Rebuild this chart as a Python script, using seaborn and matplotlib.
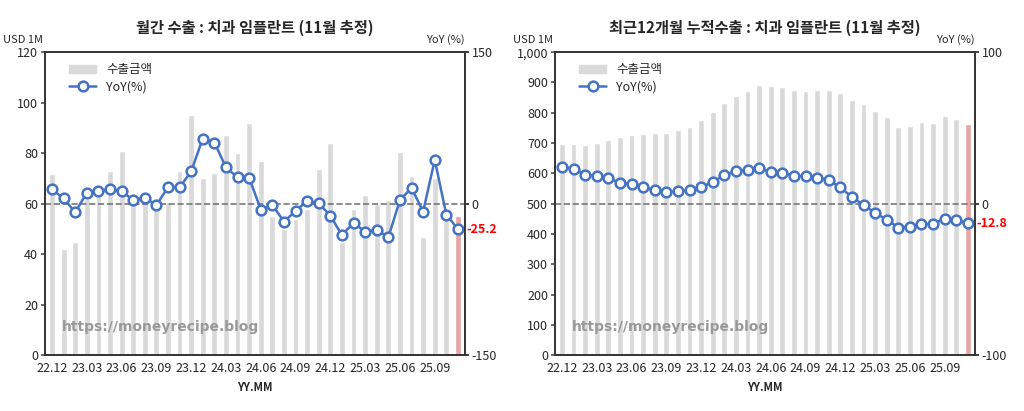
import matplotlib
matplotlib.use("Agg")
import matplotlib.pyplot as plt
import seaborn as sns
import numpy as np
import pandas as pd
from matplotlib.lines import Line2D
from matplotlib.patches import Patch

sns.set_theme(style="white")
plt.rcParams['font.family'] = ['Noto Sans CJK KR', 'DejaVu Sans']

months = ["22.12","23.01","23.02","23.03","23.04","23.05","23.06","23.07","23.08","23.09","23.10","23.11",
          "23.12","24.01","24.02","24.03","24.04","24.05","24.06","24.07","24.08","24.09","24.10","24.11",
          "24.12","25.01","25.02","25.03","25.04","25.05","25.06","25.07","25.08","25.09","25.10","25.11"]
monthly_exp = [71.6,42.2,44.9,62,66,72.8,80.7,63,62,60,60.8,72.8,95,70,72.3,87,80,91.8,76.8,55,50,53.8,58,73.6,
               84,45,58,63.3,60,61.6,80.3,71,46.6,70,55,55]
monthly_yoy = [14.1,5.3,-8.6,10.9,12.5,14.1,12.5,3.3,5.9,-1.6,16.4,16.1,31.9,64.5,60.5,35.9,26,25.7,-5.9,-1.3,
               -17.8,-7.2,2.6,0.3,-11.8,-31.3,-18.8,-28,-26,-33.2,3.6,15.5,-7.9,43.4,-10.9,-25.2]
ttm_exp = [696,698,693,701,709,719,726,731,734,734,743,753,777,804,832,855,871,891,887,886,876,873,874,875,
           864,843,830,805,785,754,757,768,765,788,781,764]
ttm_yoy = [24.3,23,19.1,18.4,16.7,13.8,12.7,11,8.8,7.9,8.1,9,10.7,14.3,18.9,21.3,22.4,23.5,20.8,20.4,18.4,18.2,
           17.1,15.6,10.7,4.4,-0.9,-6.1,-10.5,-15.8,-15.1,-13.6,-13.2,-10.1,-11,-12.8]

fig = plt.figure(figsize=(10.24, 4.11), dpi=100)
axL = fig.add_axes([0.044, 0.136, 0.41, 0.737])
axR = fig.add_axes([0.542, 0.136, 0.41, 0.737])

def panel(ax, bars, yoy, title, ymax, ystep, yfmt, ylim2):
    n = len(months)
    df = pd.DataFrame({"m": months, "v": bars})
    cols = ["#d9d9d9"] * (n - 1) + ["#e8a5a5"]
    sns.barplot(data=df, x="m", y="v", hue="m", palette=cols, legend=False, ax=ax, width=0.5,
                order=months, dodge=False, saturation=1)
    ax.set_ylim(0, ymax)
    ax.set_yticks(np.arange(0, ymax + 1, ystep))
    ax.set_yticklabels([yfmt(v) for v in np.arange(0, ymax + 1, ystep)], fontsize=9)
    ax.set_xlim(-0.6, n - 0.4)
    ax.set_xticks(range(0, n, 3))
    ax.set_xticklabels(months[::3], fontsize=9)
    ax.set_xlabel("YY.MM", fontsize=8, fontweight="bold")
    ax.set_ylabel("")
    for s in ax.spines.values():
        s.set_color("#333333"); s.set_linewidth(1.2)
    ax.tick_params(axis="both", length=3, direction="out", color="#555555", pad=2)
    ax2 = ax.twinx()
    sns.lineplot(x=np.arange(n), y=yoy, ax=ax2, color="#4472c4", lw=1.8, marker="o", markersize=7,
                 markerfacecolor="white", markeredgecolor="#4472c4", markeredgewidth=1.8)
    ax2.set_ylim(-ylim2, ylim2)
    ax2.set_yticks([-ylim2, 0, ylim2])
    ax2.set_yticklabels([str(-ylim2), "0", str(ylim2)], fontsize=9)
    ax2.axhline(0, color="#777777", ls="--", lw=1.2, zorder=0)
    ax2.tick_params(axis="y", length=3, pad=2)
    ax2.text(n - 0.3, yoy[-1], f"{yoy[-1]:.1f}", color="red", fontsize=9, fontweight="bold", va="center", ha="left")
    for s in ax2.spines.values():
        s.set_color("#333333"); s.set_linewidth(1.2)
    ax.set_title(title, fontsize=11, fontweight="bold", pad=14)
    ax.text(-0.1, 1.03, "USD 1M", transform=ax.transAxes, fontsize=8, ha="left")
    ax.text(1.0, 1.03, "YoY (%)", transform=ax.transAxes, fontsize=8, ha="right")
    ax.text(0.04, 0.08, "https://moneyrecipe.blog", transform=ax.transAxes, fontsize=10,
            fontweight="bold", color="#999999", family=["DejaVu Sans", "Noto Sans CJK KR"])
    handles = [Patch(color="#d9d9d9"), Line2D([], [], color="#4472c4", lw=1.8, marker="o", markersize=7,
               markerfacecolor="white", markeredgewidth=1.8)]
    ax2.legend(handles, ["수출금액", "YoY(%)"], loc="upper left", frameon=False, fontsize=9,
               bbox_to_anchor=(0.03, 1.0), handlelength=2.2, labelspacing=0.3)

panel(axL, monthly_exp, monthly_yoy, "월간 수출 : 치과 임플란트 (11월 추정)", 120, 20, lambda v: f"{int(v)}", 150)
panel(axR, ttm_exp, ttm_yoy, "최근12개월 누적수출 : 치과 임플란트 (11월 추정)", 1000, 100, lambda v: f"{int(v):,}", 100)

fig.savefig("out.png", dpi=100)
